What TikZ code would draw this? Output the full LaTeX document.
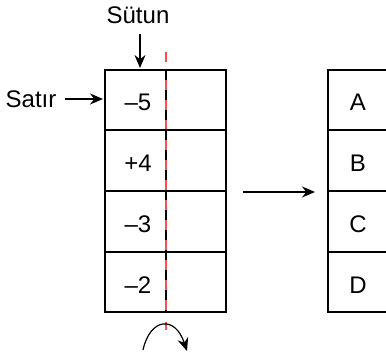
\documentclass[tikz,border=0pt]{standalone}
\usepackage{fontspec}
\setmainfont{Liberation Sans}
\usetikzlibrary{arrows.meta}

\tikzset{
  box/.style={line width=1pt, draw=black},
  tip/.style={-{Stealth[length=6.5pt,width=5.5pt]}, line width=0.6pt},
  lbl/.style={inner sep=0pt, font=\fontsize{12}{14}\selectfont}
}

\begin{document}
\begin{tikzpicture}[x=0.5pt, y=-0.5pt]
        \useasboundingbox (0,0) rectangle (386,357);

        % left table with the fold line
        \draw[red!70!white, line width=0.9pt] (166,70) -- (166,312);
        \draw[black, line width=0.9pt, dash pattern=on 5pt off 5pt] (166,70) -- (166,312);
        \draw[red!70!white, line width=0.9pt] (166,52) -- (166,62);
        \draw[red!70!white, line width=0.9pt] (166,322) -- (166,330);
        \draw[box] (105,70) rectangle (226,312);
        \foreach \y in {130,191,252}
            \draw[box] (105,\y) -- (226,\y);

        % right table
        \draw[box] (390,70) -- (328,70) -- (328,312) -- (390,312);
        \foreach \y in {130,191,252}
            \draw[box] (328,\y) -- (390,\y);

        % values
        \node[lbl] (v1) at (138,102) {–5};
        \node[lbl] (v2) at (138,163) {+4};
        \node[lbl] (v3) at (138,224) {–3};
        \node[lbl] (v4) at (138,285) {–2};

        \node[lbl] (a) at (358,102) {A};
        \node[lbl] (b) at (358,163) {B};
        \node[lbl] (c) at (358,224) {C};
        \node[lbl] (d) at (358,285) {D};

        % labels and arrows
        \node[lbl] (sutun) at (138,15) {Sütun};
        \node[lbl] (satir) at (31,99) {Satır};
        \coordinate (coltop) at (140,68);
        \coordinate (rowin) at (103,99);
        \draw[tip] (sutun.south -| coltop) ++(0,10) -- (coltop);
        \draw[tip] (satir.east) ++(8,0) -- (rowin);

        \coordinate (midfrom) at (243,192);
        \coordinate (midto) at (315,192);
        \draw[tip] (midfrom) -- (midto);

        \coordinate (turnfrom) at (143,350);
        \coordinate (turnto) at (187,351);
        \draw[tip] (turnfrom) .. controls (150,318) and (175,315) .. (turnto);
\end{tikzpicture}
\end{document}
